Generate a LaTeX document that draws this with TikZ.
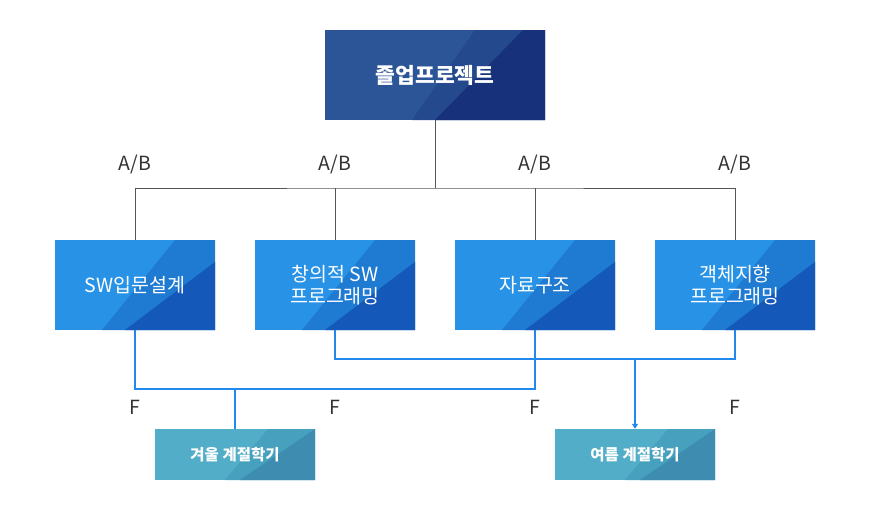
\documentclass[tikz,border=0pt]{standalone}
\usepackage{fontspec}
\setmainfont{Noto Sans CJK KR}
\usetikzlibrary{arrows.meta}

\definecolor{navyA}{HTML}{2C5598}
\definecolor{navyB}{HTML}{24498D}
\definecolor{navyC}{HTML}{17327A}
\definecolor{blueA}{HTML}{2893E6}
\definecolor{blueB}{HTML}{1F7AD2}
\definecolor{blueC}{HTML}{1458B9}
\definecolor{tealA}{HTML}{52AEC8}
\definecolor{tealB}{HTML}{48A0BF}
\definecolor{tealC}{HTML}{3E8DB1}
\definecolor{linegray}{HTML}{555555}
\definecolor{lineblue}{HTML}{2288EE}
\definecolor{labelgray}{HTML}{333333}

\tikzset{
  stripes/.style n args={6}{path picture={
    \fill[#1] ([xshift=#2]path picture bounding box.south west) -- ([xshift=#3]path picture bounding box.north west)
      -- ([xshift=400pt]path picture bounding box.north west) -- ([xshift=400pt]path picture bounding box.south west) -- cycle;
    \fill[#4] ([xshift=#5]path picture bounding box.south west) -- ([xshift=#6]path picture bounding box.north west)
      -- ([xshift=400pt]path picture bounding box.north west) -- ([xshift=400pt]path picture bounding box.south west) -- cycle;
  }},
  headbox/.style={fill=navyA, text=white, inner sep=0pt, minimum width=220pt, minimum height=90pt,
    font=\fontsize{21.5}{26}\selectfont\bfseries, stripes={navyB}{87pt}{150pt}{navyC}{110pt}{198pt}},
  coursebox/.style={fill=blueA, text=white, inner sep=0pt, minimum width=160pt, minimum height=90pt, align=center,
    font=\fontsize{19.5}{22.5}\selectfont, stripes={blueB}{47pt}{120pt}{blueC}{70pt}{189pt}},
  termbox/.style={fill=tealA, text=white, inner sep=0pt, minimum width=160pt, minimum height=51pt,
    font=\fontsize{15.5}{18}\selectfont\bfseries, stripes={tealB}{70pt}{113pt}{tealC}{85pt}{160pt}},
  grade/.style={text=labelgray, inner sep=0pt, font=\fontsize{19.5}{22}\selectfont},
  topline/.style={draw=linegray, line width=1pt},
  botline/.style={draw=lineblue, line width=1.3pt}
}

\begin{document}
\begin{tikzpicture}[x=1pt,y=-1pt]
  \useasboundingbox (0,0) rectangle (870,530);

  % boxes
  \node[headbox] (grad) at (435,75) {졸업프로젝트};

  \node[coursebox] (intro) at (135,285) {SW입문설계};
  \node[coursebox] (creat) at (335,285) {창의적 SW\\프로그래밍};
  \node[coursebox] (data) at (535,285) {자료구조};
  \node[coursebox] (oop) at (735,285) {객체지향\\프로그래밍};

  \node[termbox] (winter) at (235,454.5) {겨울 계절학기};
  \node[termbox] (summer) at (635,454.5) {여름 계절학기};

  % top tree
  \coordinate (ab) at (435,188);
  \draw[topline] (grad) -- (ab);
  \draw[topline] (intro.north) |- (ab) -| (oop.north);
  \draw[topline] (creat.north) -- (creat.north |- ab);
  \draw[topline] (data.north) -- (data.north |- ab);

  \node[grade] (abintro) at (135,165) {A/B};
  \node[grade] (abcreat) at (335,165) {A/B};
  \node[grade] (abdata) at (535,165) {A/B};
  \node[grade] (aboop) at (735,165) {A/B};

  % bottom lines
  \coordinate (wj) at (235,389);
  \draw[botline] (intro.south) |- (wj) -| (data.south);
  \draw[botline] (wj) -- (winter);

  \coordinate (sj) at (635,359);
  \draw[botline] (creat.south) |- (sj) -| (oop.south);
  \draw[botline,-{Triangle[length=5pt,width=6pt]}] (sj) -- (summer);

  \node[grade] (fintro) at (135,407) {F};
  \node[grade] (fcreat) at (335,407) {F};
  \node[grade] (fdata) at (535,407) {F};
  \node[grade] (foop) at (735,407) {F};
\end{tikzpicture}
\end{document}
